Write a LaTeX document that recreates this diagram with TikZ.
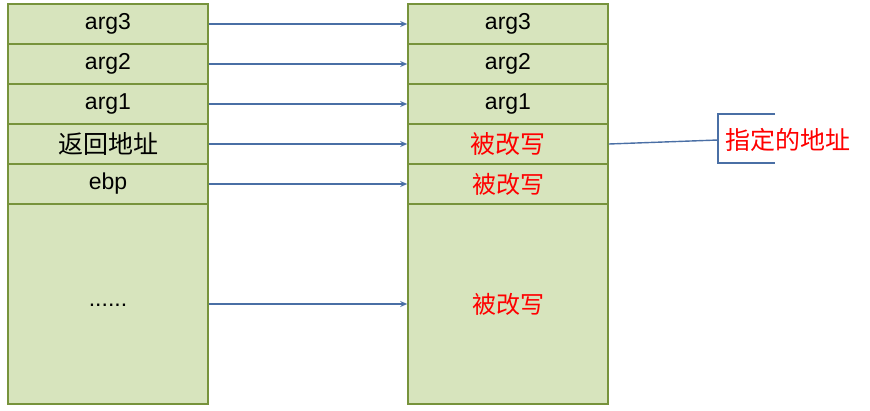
\documentclass[tikz,border=0pt]{standalone}
\usepackage{fontspec}
\setmainfont{Liberation Sans}
\newfontfamily\cjk{Noto Sans CJK SC}
\usetikzlibrary{arrows.meta}
\definecolor{cellfill}{HTML}{D7E4BD}
\definecolor{celldraw}{HTML}{77933C}
\definecolor{arrowblue}{HTML}{4A6FA5}
\tikzset{
  cell/.style={draw=celldraw, fill=cellfill, line width=1.6pt, minimum width=200pt, inner sep=0pt, font=\fontsize{23}{26}\selectfont},
  row/.style={cell, minimum height=40pt},
  big/.style={cell, minimum height=200pt},
  link/.style={draw=arrowblue, line width=1.3pt, -{Stealth[length=7pt,width=6pt]}},
  callout/.style={draw=arrowblue, line width=1.4pt},
  redtxt/.style={text=red, font=\cjk\fontsize{25}{26}\selectfont},
}
\begin{document}
\begin{tikzpicture}[x=1pt,y=-1pt]
\useasboundingbox (0,0) rectangle (870,410);
% left column
\node[row] (l1) at (108,24) {arg3};
\node[row] (l2) at (108,64) {arg2};
\node[row] (l3) at (108,104) {arg1};
\node[row, font=\cjk\fontsize{25}{26}\selectfont] (l4) at (108,144) {返回地址};
\node[row] (l5) at (108,184) {ebp};
\node[big] (l6) at (108,304) {\raisebox{-4pt}{......}};
% right column
\node[row] (r1) at (508,24) {arg3};
\node[row] (r2) at (508,64) {arg2};
\node[row] (r3) at (508,104) {arg1};
\node[row, redtxt] (r4) at (508,144) {被改写};
\node[row, redtxt, font=\cjk\fontsize{24}{26}\selectfont] (r5) at (508,184) {被改写};
\node[big, redtxt, font=\cjk\fontsize{24}{26}\selectfont] (r6) at (508,304) {被改写};
% arrows
\foreach \i in {1,...,6} {
  \draw[link] (l\i.east) -- (r\i.west);
}
% callout
\coordinate (ct) at (718,114);
\coordinate (cm) at (718,140);
\coordinate (cb) at (718,163);
\draw[callout] (r4.east) -- (cm);
\draw[callout] (775,114) -- (ct) -- (cb) -- (775,163);
\node[anchor=west, text=red, font=\cjk\fontsize{25}{26}\selectfont, inner sep=0pt] (addr) at (725,140) {指定的地址};
\end{tikzpicture}
\end{document}
